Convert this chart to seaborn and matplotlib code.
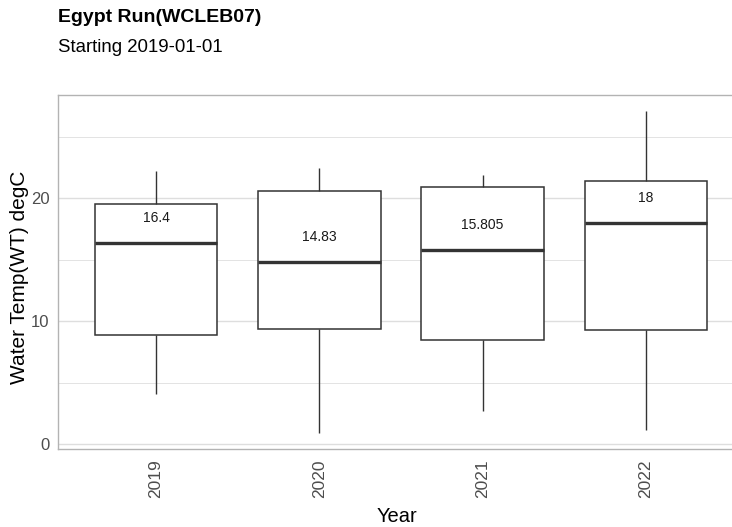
import matplotlib
matplotlib.use("Agg")
import matplotlib.pyplot as plt
from matplotlib.ticker import FixedLocator
import seaborn as sns
import pandas as pd

# Yearly water temperature summaries (degC)
years = ["2019", "2020", "2021", "2022"]
whisker_low = [4.1, 0.9, 2.7, 1.1]
q1 = [8.9, 9.4, 8.5, 9.3]
median = [16.4, 14.83, 15.805, 18.0]
q3 = [19.5, 20.6, 20.9, 21.4]
whisker_high = [22.2, 22.5, 21.9, 27.1]

# Five points per year reproduce the box statistics exactly
rows = []
for i, yr in enumerate(years):
    for v in (whisker_low[i], q1[i], median[i], q3[i], whisker_high[i]):
        rows.append({"Year": yr, "WT": v})
df = pd.DataFrame(rows)

sns.set_theme(style="white")
plt.rcParams["font.family"] = ["Liberation Sans", "DejaVu Sans"]

W, H = 732, 527
fig = plt.figure(figsize=(W / 100, H / 100), dpi=100)
fig.patch.set_facecolor("white")
ax = fig.add_axes([58 / W, 1 - 449 / H, (744 - 58) / W, (449 - 95) / H])
ax.set_facecolor("white")

# light theme grid
ax.set_axisbelow(True)
ax.yaxis.set_major_locator(FixedLocator([0, 10, 20]))
ax.yaxis.set_minor_locator(FixedLocator([5, 15, 25]))
ax.grid(which="major", axis="both", color="#DEDEDE", linewidth=1.0)
ax.grid(which="minor", axis="y", color="#DEDEDE", linewidth=0.6)

sns.boxplot(
    data=df, x="Year", y="WT", ax=ax, order=years,
    width=0.75, color="white", saturation=1, linecolor="#333333",
    linewidth=1.1, showcaps=False, whis=1.5,
    medianprops=dict(linewidth=2.4, color="#333333"),
    whiskerprops=dict(linewidth=1.0, color="#333333"),
)

for i, m in enumerate(median):
    ax.text(i, m + 2, f"{m:g}", ha="center", va="center",
            fontsize=10, color="#1a1a1a")

ax.set_xlim(-0.6, 3.6)
ax.set_ylim(-0.41, 28.41)

for s in ax.spines.values():
    s.set_color("#B3B3B3")
    s.set_linewidth(1.0)
ax.tick_params(axis="both", which="major", direction="out", length=3.5,
               width=0.8, color="#B3B3B3", labelcolor="#4D4D4D",
               labelsize=12, pad=2.5)
ax.tick_params(axis="x", labelsize=12.5, labelrotation=90, pad=4)
ax.tick_params(axis="y", which="minor", length=0)

ax.set_xlabel("Year", fontsize=14.5, color="black")
ax.set_ylabel("Water Temp(WT) degC", fontsize=15, color="black")
ax.xaxis.set_label_coords(0.494, -0.164)
ax.yaxis.set_label_coords(-0.042, 0.485)

fig.text(58 / W, 1 - 18 / H, "Egypt Run(WCLEB07)", fontsize=14,
         fontweight="bold", ha="left", va="center", color="black")
fig.text(58 / W, 1 - 48 / H, "Starting 2019-01-01", fontsize=13.4,
         ha="left", va="center", color="black")

fig.savefig("out.png", dpi=100, facecolor="white")
